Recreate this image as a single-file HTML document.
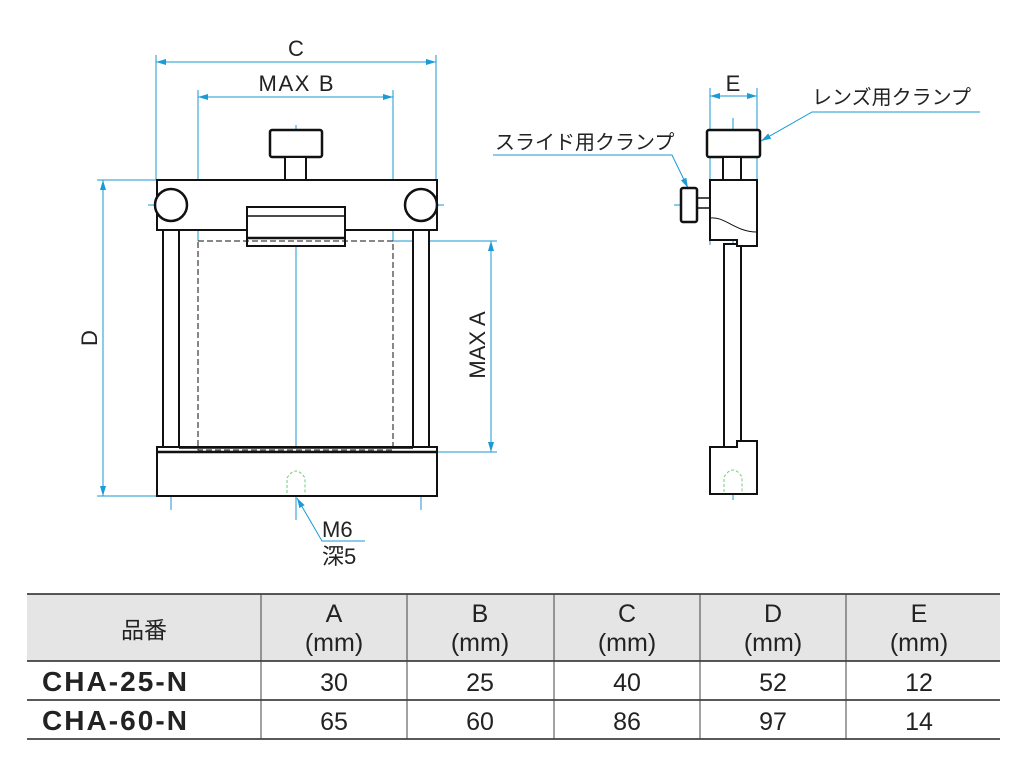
<!DOCTYPE html>
<html><head><meta charset="utf-8"><style>
body{margin:0;background:#fff}
svg{display:block}
text{font-family:"Liberation Sans","Noto Sans CJK JP",sans-serif;fill:#222}
</style></head><body>
<svg width="1027" height="772" viewBox="0 0 1027 772" xmlns="http://www.w3.org/2000/svg">
<defs>
<marker id="a" viewBox="0 0 10 6" refX="10" refY="3" markerWidth="10" markerHeight="6" orient="auto-start-reverse" markerUnits="userSpaceOnUse"><path d="M0,0 L10,3 L0,6 z" fill="#1a9ad6"/></marker>
</defs>
<g stroke="#1a9ad6" stroke-width="1" fill="none">
<line x1="156" y1="55" x2="156" y2="180"/><line x1="436" y1="55" x2="436" y2="180"/>
<line x1="198" y1="90" x2="198" y2="241"/><line x1="393" y1="90" x2="393" y2="241"/>
<line x1="156" y1="62" x2="436" y2="62" marker-start="url(#a)" marker-end="url(#a)"/>
<line x1="198" y1="97" x2="393" y2="97" marker-start="url(#a)" marker-end="url(#a)"/>
<line x1="97" y1="180" x2="156" y2="180"/><line x1="97" y1="496" x2="156" y2="496"/>
<line x1="103" y1="180" x2="103" y2="496" marker-start="url(#a)" marker-end="url(#a)"/>
<line x1="393" y1="241" x2="497" y2="241"/><line x1="393" y1="452" x2="497" y2="452"/>
<line x1="491" y1="241" x2="491" y2="452" marker-start="url(#a)" marker-end="url(#a)"/>
<line x1="296" y1="125" x2="296" y2="520"/>
<line x1="171" y1="195" x2="171" y2="510" stroke-dasharray="30 4 3 4"/>
<line x1="421" y1="195" x2="421" y2="510" stroke-dasharray="30 4 3 4"/>
<line x1="148" y1="205" x2="194" y2="205"/><line x1="398" y1="205" x2="444" y2="205"/>
<polyline points="365,541 322,541 297,498" marker-end="url(#a)"/>
<line x1="710" y1="88" x2="710" y2="245"/><line x1="757" y1="88" x2="757" y2="245"/>
<line x1="710" y1="96" x2="757" y2="96" marker-start="url(#a)" marker-end="url(#a)"/>
<line x1="733" y1="118" x2="733" y2="500"/>
<line x1="674" y1="205" x2="718" y2="205"/>
<polyline points="980,112 812,112 761,141" marker-end="url(#a)"/>
<polyline points="493,155 672,155 688,188" marker-end="url(#a)"/>
</g>
<g stroke="#111" fill="#fff" stroke-width="2">
<rect x="270" y="130" width="52" height="27" rx="2" stroke-width="2.5"/>
<rect x="285" y="157" width="21" height="23"/>
<rect x="163" y="230" width="16" height="222"/>
<rect x="413" y="230" width="16" height="222"/>
<rect x="157" y="180" width="280" height="50"/>
<circle cx="171" cy="205" r="16" stroke-width="2.5"/>
<circle cx="421" cy="205" r="16" stroke-width="2.5"/>
<rect x="247" y="207" width="98" height="39"/>
<line x1="247" y1="216" x2="345" y2="216" stroke-width="1.5"/>
<line x1="247" y1="238" x2="345" y2="238" stroke-width="2.5"/>
<rect x="157" y="447" width="280" height="49"/>
<line x1="157" y1="452" x2="437" y2="452" stroke-width="2.5"/>
<line x1="179" y1="448" x2="413" y2="448" stroke-width="1.5"/>
<rect x="707" y="130" width="53" height="27" rx="2" stroke-width="2.5"/>
<rect x="723" y="157" width="18" height="23"/>
<rect x="697" y="198" width="13" height="10" stroke-width="1.5"/>
<rect x="681" y="188" width="16" height="34" rx="2" stroke-width="2.5"/>
<rect x="724" y="244" width="17" height="205"/>
<path d="M710,180 H757 V246 H737 V240 H710 Z"/>
<path d="M710,447 H724 V447 H737 V441 H757 V494 H710 Z"/>
<path d="M710,218 C725,216 735,232 757,232" fill="none" stroke-width="1"/>
</g>
<g stroke="#111" fill="none" stroke-width="1" stroke-dasharray="6 3">
<rect x="198" y="241" width="195" height="209"/>
</g>
<g stroke="#7c7" fill="none" stroke-width="1" stroke-dasharray="3 2">
<path d="M287,493 V478 Q296,464 305,478 V493"/>
<path d="M724,492 V477 Q733,463 742,477 V492"/>
</g>
<g font-size="22">
<text x="296" y="56" text-anchor="middle">C</text>
<text x="296" y="91" text-anchor="middle" textLength="75">MAX B</text>
<text transform="translate(97,338) rotate(-90)" text-anchor="middle">D</text>
<text transform="translate(485,345) rotate(-90)" text-anchor="middle">MAX A</text>
<text x="733" y="91" text-anchor="middle">E</text>
<text x="322" y="537">M6</text>
<text x="322" y="564">深5</text>
<text x="812" y="104" font-size="20">レンズ用クランプ</text>
<text x="495" y="149" font-size="20">スライド用クランプ</text>
</g>
<rect x="27" y="594" width="973" height="67" fill="#e5e5e5"/>
<g stroke="#222" stroke-width="1.5">
<line x1="27" y1="594" x2="1000" y2="594"/>
<line x1="27" y1="661" x2="1000" y2="661"/>
<line x1="27" y1="700" x2="1000" y2="700"/>
<line x1="27" y1="739" x2="1000" y2="739"/>
</g>
<g stroke="#444" stroke-width="1">
<line x1="261" y1="594" x2="261" y2="739"/><line x1="407" y1="594" x2="407" y2="739"/>
<line x1="554" y1="594" x2="554" y2="739"/><line x1="700" y1="594" x2="700" y2="739"/>
<line x1="846" y1="594" x2="846" y2="739"/>
</g>
<g font-size="25" text-anchor="middle">
<text x="144" y="638" font-size="23">品番</text>
<text x="334" y="622">A</text><text x="334" y="651">(mm)</text>
<text x="480" y="622">B</text><text x="480" y="651">(mm)</text>
<text x="627" y="622">C</text><text x="627" y="651">(mm)</text>
<text x="773" y="622">D</text><text x="773" y="651">(mm)</text>
<text x="919" y="622">E</text><text x="919" y="651">(mm)</text>
<text x="334" y="691">30</text><text x="480" y="691">25</text><text x="627" y="691">40</text><text x="773" y="691">52</text><text x="919" y="691">12</text>
<text x="334" y="730">65</text><text x="480" y="730">60</text><text x="627" y="730">86</text><text x="773" y="730">97</text><text x="919" y="730">14</text>
</g>
<g font-size="28" font-weight="bold">
<text x="42" y="691" textLength="145">CHA-25-N</text>
<text x="42" y="730" textLength="145">CHA-60-N</text>
</g>
</svg>
</body></html>
